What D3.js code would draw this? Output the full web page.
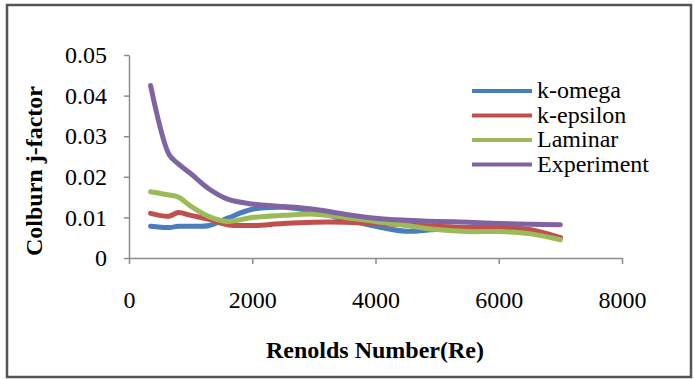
<html>
<head>
    <script src="https://d3js.org/d3.v7.min.js"></script>
    <style>
        body { margin: 0; background: #fff; }
        .axis path, .axis line { stroke: #8c8c8c; stroke-width: 1.5px; }
        .series { fill: none; stroke-width: 5px; stroke-linecap: round; stroke-linejoin: round; }
    </style>
</head>
<body>
    <script>
        // Reynolds numbers shared by all series
        var reynolds = [350, 650, 800, 1000, 1300, 1600, 2000, 2500, 3000, 3500, 4000, 4500, 5000, 5500, 6000, 6500, 7000];

        var kOmega     = [0.0078, 0.0075, 0.0078, 0.0078, 0.0080, 0.0098, 0.0120, 0.0125, 0.0115, 0.0095, 0.0078, 0.0066, 0.0070, 0.0068, 0.0070, 0.0062, 0.0050];
        var kEpsilon   = [0.0110, 0.0103, 0.0112, 0.0105, 0.0095, 0.0082, 0.0080, 0.0085, 0.0088, 0.0088, 0.0085, 0.0082, 0.0078, 0.0075, 0.0075, 0.0070, 0.0050];
        var laminar    = [0.0163, 0.0155, 0.0150, 0.0128, 0.0102, 0.0090, 0.0100, 0.0105, 0.0108, 0.0100, 0.0090, 0.0080, 0.0070, 0.0065, 0.0065, 0.0060, 0.0045];
        var experiment = [0.0425, 0.0255, 0.0232, 0.0208, 0.0170, 0.0145, 0.0133, 0.0127, 0.0120, 0.0108, 0.0098, 0.0093, 0.0090, 0.0088, 0.0085, 0.0083, 0.0082];

        var seriesNames = ["k-omega", "k-epsilon", "Laminar", "Experiment"];
        var seriesColors = ["#4a7ebb", "#c0504d", "#9bbb59", "#8064a2"];
        var seriesValues = [kOmega, kEpsilon, laminar, experiment];

        var xTicks = [0, 2000, 4000, 6000, 8000];
        var yTicks = [0, 0.01, 0.02, 0.03, 0.04, 0.05];

        var serif = "Times New Roman, Liberation Serif, serif";
        var fontSize = 24;

        var width = 694, height = 379;
        var svg = d3.select("body").append("svg")
            .attr("width", width)
            .attr("height", height);

        // outer frame
        svg.append("rect")
            .attr("x", 7).attr("y", 5)
            .attr("width", 684).attr("height", 372)
            .attr("fill", "none")
            .attr("stroke", "#555")
            .attr("stroke-width", 2.5);

        var x = d3.scaleLinear().domain([0, 8000]).range([129, 622]);
        var y = d3.scaleLinear().domain([0, 0.05]).range([258, 55]);

        var xAxis = svg.append("g")
            .attr("class", "axis")
            .attr("transform", "translate(0," + y(0) + ")")
            .call(d3.axisBottom(x).tickValues(xTicks).tickSizeInner(6).tickSizeOuter(0).tickFormat(d3.format("d")));
        xAxis.attr("font-family", serif).attr("font-size", fontSize);
        xAxis.selectAll("text")
            .attr("fill", "#000")
            .attr("dy", 0)
            .attr("y", 50);

        var yAxis = svg.append("g")
            .attr("class", "axis")
            .attr("transform", "translate(" + x(0) + ",0)")
            .call(d3.axisLeft(y).tickValues(yTicks).tickSizeInner(5).tickSizeOuter(0).tickFormat(function (d) { return d === 0 ? "0" : d3.format(".2f")(d); }));
        yAxis.attr("font-family", serif).attr("font-size", fontSize);
        yAxis.selectAll("text")
            .attr("fill", "#000")
            .attr("x", -22);

        // series lines
        var line = d3.line()
            .x(function (d) { return x(d[0]); })
            .y(function (d) { return y(d[1]); })
            .curve(d3.curveCatmullRom.alpha(0.5));

        seriesValues.forEach(function (vals, i) {
            svg.append("path")
                .attr("class", "series")
                .attr("stroke", seriesColors[i])
                .attr("d", line(reynolds.map(function (r, j) { return [r, vals[j]]; })));
        });

        // legend
        var legend = svg.append("g")
            .attr("transform", "translate(472,91)")
            .attr("font-family", serif)
            .attr("font-size", fontSize);
        seriesNames.forEach(function (name, i) {
            var g = legend.append("g").attr("transform", "translate(0," + i * 24.5 + ")");
            g.append("line")
                .attr("x1", 0).attr("x2", 60)
                .attr("stroke", seriesColors[i])
                .attr("stroke-width", 4);
            g.append("text")
                .attr("x", 65).attr("y", 7)
                .text(name);
        });

        // axis titles
        svg.append("text")
            .attr("x", 375).attr("y", 358)
            .attr("text-anchor", "middle")
            .attr("font-family", serif)
            .attr("font-size", fontSize)
            .attr("font-weight", "bold")
            .text("Renolds Number(Re)");

        svg.append("text")
            .attr("transform", "translate(42,171) rotate(-90)")
            .attr("text-anchor", "middle")
            .attr("font-family", serif)
            .attr("font-size", fontSize)
            .attr("font-weight", "bold")
            .text("Colburn j-factor");
    </script>
</body>
</html>
